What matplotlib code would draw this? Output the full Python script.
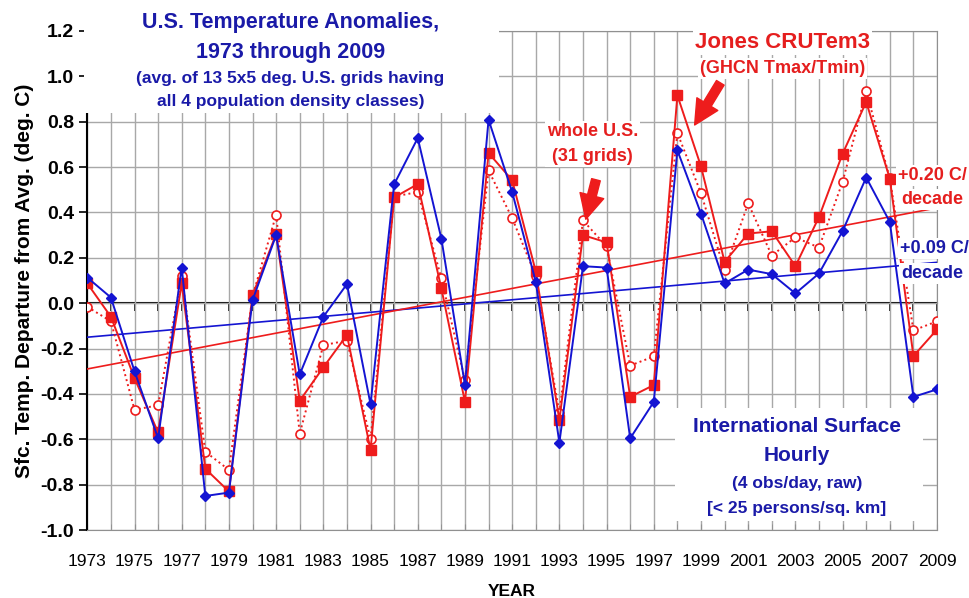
import numpy as np
import matplotlib
matplotlib.use('Agg')
import matplotlib.pyplot as plt
from matplotlib.patches import Rectangle

plt.rcParams['font.family'] = ['Liberation Sans', 'DejaVu Sans']

years = list(range(1973, 2010))

# International Surface Hourly, < 25 persons/sq. km (blue)
ish = [0.113, 0.025, -0.30, -0.596, 0.157, -0.85, -0.835, 0.013, 0.30, -0.314,
       -0.06, 0.084, -0.446, 0.524, 0.728, 0.285, -0.361, 0.809, 0.49, 0.094,
       -0.615, 0.163, 0.157, -0.596, -0.435, 0.674, 0.395, 0.087, 0.148, 0.128,
       0.043, 0.131, 0.318, 0.554, 0.358, -0.413, -0.38]
# Jones CRUTem3 (red, filled)
jones = [0.087, -0.06, -0.33, -0.57, 0.087, -0.73, -0.83, 0.035, 0.305, -0.43,
         -0.283, -0.14, -0.647, 0.466, 0.525, 0.065, -0.435, 0.662, 0.542, 0.14,
         -0.515, 0.30, 0.268, -0.413, -0.361, 0.916, 0.603, 0.182, 0.307, 0.317,
         0.163, 0.38, 0.659, 0.887, 0.549, -0.233, -0.116]
# whole U.S., 31 grids (red, open, dotted)
whole_us = [-0.016, -0.08, -0.47, -0.45, 0.12, -0.655, -0.735, 0.03, 0.39, -0.575,
            -0.185, -0.165, -0.60, 0.47, 0.49, 0.11, -0.34, 0.585, 0.375, 0.12,
            -0.485, 0.365, 0.25, -0.275, -0.235, 0.75, 0.485, 0.145, 0.44, 0.21,
            0.29, 0.245, 0.535, 0.935, 0.55, -0.12, -0.08]

trend_years = [1973, 2009]
ish_trend = [-0.15, 0.18]
jones_trend = [-0.29, 0.42]

yticks = [-1.0, -0.8, -0.6, -0.4, -0.2, 0.0, 0.2, 0.4, 0.6, 0.8, 1.0, 1.2]
ytick_labels = ['-1.0', '-0.8', '-0.6', '-0.4', '-0.2', '0.0',
                '0.2', '0.4', '0.6', '0.8', '1.0', '1.2']

BLUE = '#1414d2'
RED = '#ee1c1c'
TBLUE = '#1a1aa8'
TRED = '#e51e1e'

fig = plt.figure(figsize=(9.7, 5.98), dpi=100)
ax = fig.add_axes([0.090, 0.1137, 0.876, 0.8345])

ax.set_xlim(1973, 2009)
ax.set_ylim(-1.0, 1.2)
ax.set_xticks(range(1973, 2010, 2))
ax.set_xticks(range(1973, 2010), minor=True)
ax.set_yticks(yticks)
ax.set_yticklabels(ytick_labels, fontweight='bold', fontsize=14)
ax.tick_params(axis='x', which='both', direction='in', length=4, color='#909090',
               labelsize=12.5, pad=17)
ax.tick_params(axis='y', direction='out', length=6, width=1.2)
ax.grid(True, which='both', color='#a8a8a8', lw=1.0)
ax.set_axisbelow(True)
for s in ['top', 'right', 'bottom']:
    ax.spines[s].set_color('#909090')
ax.spines['left'].set_linewidth(1.5)

# zero line with year ticks
zero = ax.secondary_xaxis(1.0 / 2.2)
zero.set_xticks(range(1973, 2010))
zero.tick_params(direction='out', length=6, width=1.2, labelbottom=False,
                 labeltop=False, top=False, bottom=True)
zero.spines['bottom'].set_linewidth(1.5)
zero.spines['bottom'].set_color('black')
zero.xaxis.set_ticks_position('bottom')
zero.set_xticklabels([])

ax.plot(trend_years, ish_trend, color=BLUE, lw=1.2, zorder=3)
ax.plot(trend_years, jones_trend, color=RED, lw=1.2, zorder=3)
ax.plot(years, whole_us, ':', color=RED, lw=1.4, marker='o', ms=6.5,
        mfc='white', mec=RED, mew=1.2, zorder=4)
ax.plot(years, jones, '-', color=RED, lw=1.4, marker='s', ms=6.5,
        mfc=RED, mec=RED, zorder=5)
ax.plot(years, ish, '-', color=BLUE, lw=1.4, marker='D', ms=5,
        mfc=BLUE, mec=BLUE, zorder=6)

ax.set_ylabel('Sfc. Temp. Departure from Avg. (deg. C)', fontsize=15,
              fontweight='bold', labelpad=5)
ax.set_xlabel('YEAR', fontsize=12.5, fontweight='bold', labelpad=11)

# white boxes behind the titles
ax.add_patch(Rectangle((1972.85, 0.84), 17.6, 0.5, facecolor='white',
                       edgecolor='none', zorder=7, clip_on=False))
ax.add_patch(Rectangle((1997.9, -0.96), 10.5, 0.5, facecolor='white',
                       edgecolor='none', zorder=7))

ax.text(1981.6, 1.238, 'U.S. Temperature Anomalies,', color=TBLUE, fontsize=15.5,
        fontweight='bold', ha='center', va='center', zorder=8)
ax.text(1981.6, 1.106, '1973 through 2009', color=TBLUE, fontsize=15.5,
        fontweight='bold', ha='center', va='center', zorder=8)
ax.text(1981.6, 0.991, '(avg. of 13 5x5 deg. U.S. grids having', color=TBLUE,
        fontsize=12.5, fontweight='bold', ha='center', va='center', zorder=8)
ax.text(1981.6, 0.89, 'all 4 population density classes)', color=TBLUE,
        fontsize=12.5, fontweight='bold', ha='center', va='center', zorder=8)

ax.text(2003.07, -0.545, 'International Surface', color=TBLUE, fontsize=15,
        fontweight='bold', ha='center', va='center', zorder=8)
ax.text(2003.07, -0.67, 'Hourly', color=TBLUE, fontsize=15,
        fontweight='bold', ha='center', va='center', zorder=8)
ax.text(2003.07, -0.794, '(4 obs/day, raw)', color=TBLUE, fontsize=12.5,
        fontweight='bold', ha='center', va='center', zorder=8)
ax.text(2003.07, -0.904, '[< 25 persons/sq. km]', color=TBLUE, fontsize=12.5,
        fontweight='bold', ha='center', va='center', zorder=8)

box = dict(facecolor='white', edgecolor='none', pad=1.5)
ax.text(2002.45, 1.15, 'Jones CRUTem3', color=TRED, fontsize=16,
        fontweight='bold', ha='center', va='center', zorder=8, bbox=box)
ax.text(2002.45, 1.035, '(GHCN Tmax/Tmin)', color=TRED, fontsize=13,
        fontweight='bold', ha='center', va='center', zorder=8, bbox=box)
ax.text(1994.4, 0.70, 'whole U.S.\n(31 grids)', color=TRED, fontsize=13,
        fontweight='bold', ha='center', va='center', zorder=8, bbox=box,
        linespacing=1.6)

ax.text(2007.35, 0.564, '+0.20 C/', color=TRED, fontsize=13, fontweight='bold',
        ha='left', va='center', zorder=8, clip_on=False, bbox=box)
ax.text(2007.5, 0.457, 'decade', color=TRED, fontsize=13, fontweight='bold',
        ha='left', va='center', zorder=8, clip_on=False, bbox=box)
ax.text(2007.45, 0.241, '+0.09 C/', color=TBLUE, fontsize=13, fontweight='bold',
        ha='left', va='center', zorder=8, clip_on=False, bbox=box)
ax.text(2007.5, 0.131, 'decade', color=TBLUE, fontsize=13, fontweight='bold',
        ha='left', va='center', zorder=8, clip_on=False, bbox=box)

arrow = dict(arrowstyle='simple,head_width=1.1,head_length=1.1,tail_width=0.4',
             color=RED, mutation_scale=16)
ax.annotate('', xy=(1998.67, 0.775), xytext=(1999.88, 0.982),
            arrowprops=arrow, zorder=9)
ax.annotate('', xy=(1994.09, 0.358), xytext=(1994.58, 0.556),
            arrowprops=arrow, zorder=9)

fig.savefig('out.png', dpi=100)
